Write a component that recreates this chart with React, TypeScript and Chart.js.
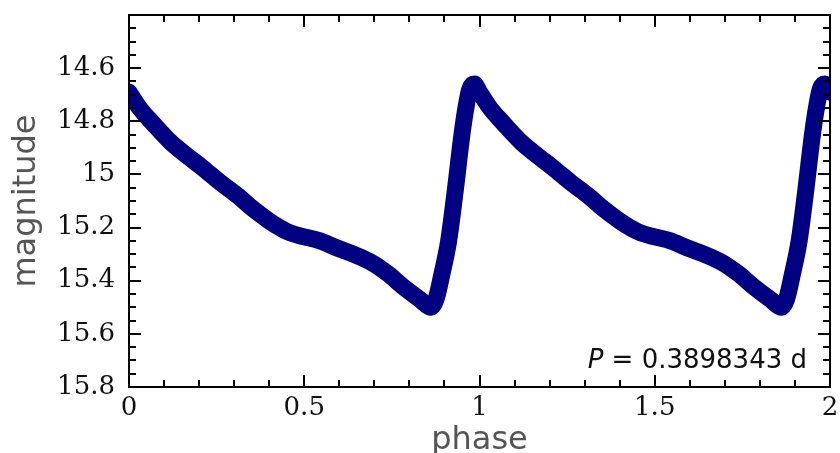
import React, { useEffect, useRef } from 'react';
import { Chart, registerables } from 'chart.js';

Chart.register(...registerables);

// One folded cycle of the light curve (phase, magnitude)
const cyclePhase = [
  0.0, 0.03, 0.07, 0.12, 0.166, 0.21, 0.26, 0.31, 0.354, 0.4, 0.43, 0.46, 0.5,
  0.545, 0.59, 0.64, 0.69, 0.74, 0.78, 0.83, 0.862, 0.876, 0.892, 0.912, 0.93,
  0.953, 0.972, 0.985,
];
const cycleMag = [
  14.69, 14.75, 14.81, 14.88, 14.93, 14.975, 15.03, 15.08, 15.13, 15.175,
  15.2, 15.22, 15.235, 15.25, 15.275, 15.3, 15.33, 15.375, 15.42, 15.47, 15.5,
  15.47, 15.38, 15.25, 15.07, 14.82, 14.68, 14.66,
];
const cycles = [0, 1];
const xTickValues = [0, 0.5, 1, 1.5, 2];
const yTickValues = [14.6, 14.8, 15, 15.2, 15.4, 15.6, 15.8];
const xAxisTitle = 'phase';
const yAxisTitle = 'magnitude';
const periodSymbol = 'P';
const periodText = ' = 0.3898343 d';

const LINE_COLOR = '#000080';

function buildPoints() {
  const pts: { x: number; y: number }[] = [];
  cycles.forEach((k) => {
    cyclePhase.forEach((p, i) => pts.push({ x: p + k, y: cycleMag[i] }));
  });
  pts.push({ x: cyclePhase[0] + cycles.length, y: cycleMag[0] });
  return pts;
}

const framePlugin = {
  id: 'frameTicks',
  afterDraw(chart: any) {
    const { ctx, chartArea, scales } = chart;
    const { left, right, top, bottom } = chartArea;
    const x = scales.x;
    const y = scales.y;
    ctx.save();
    ctx.strokeStyle = '#000';
    ctx.lineWidth = 2;
    ctx.beginPath();
    for (let i = 0; i <= 20; i++) {
      const v = i / 10;
      const px = Math.round(x.getPixelForValue(v));
      const len = i % 5 === 0 ? 12 : 7;
      ctx.moveTo(px, bottom);
      ctx.lineTo(px, bottom - len);
      ctx.moveTo(px, top);
      ctx.lineTo(px, top + len);
    }
    for (let i = 0; i <= 28; i++) {
      const v = 14.4 + i * 0.05;
      const py = Math.round(y.getPixelForValue(v));
      const len = i % 4 === 0 ? 12 : 7;
      ctx.moveTo(left, py);
      ctx.lineTo(left + len, py);
      ctx.moveTo(right, py);
      ctx.lineTo(right - len, py);
    }
    ctx.stroke();
    ctx.strokeRect(left, top, right - left, bottom - top);

    ctx.fillStyle = '#111';
    ctx.textBaseline = 'middle';
    ctx.textAlign = 'left';
    const fontN = '26px "DejaVu Sans"';
    const fontI = 'italic 26px "DejaVu Sans"';
    ctx.font = fontN;
    const wRest = ctx.measureText(periodText).width;
    ctx.font = fontI;
    const wP = ctx.measureText(periodSymbol).width;
    const xEnd = right - 23;
    const yMid = bottom - 26;
    ctx.fillText(periodSymbol, xEnd - wRest - wP, yMid);
    ctx.font = fontN;
    ctx.fillText(periodText, xEnd - wRest, yMid);
    ctx.restore();
  },
};

export default function App() {
  const ref = useRef<HTMLCanvasElement>(null);

  useEffect(() => {
    if (!ref.current) return;
    const chart = new Chart(ref.current, {
      type: 'line',
      data: {
        datasets: [
          {
            data: buildPoints(),
            borderColor: LINE_COLOR,
            backgroundColor: LINE_COLOR,
            borderWidth: 17,
            borderCapStyle: 'round',
            borderJoinStyle: 'round',
            pointRadius: 0,
            cubicInterpolationMode: 'monotone',
            fill: false,
          },
        ],
      },
      options: {
        animation: false,
        responsive: false,
        devicePixelRatio: 1,
        layout: { padding: { top: 15, right: 10, left: 0, bottom: 0 } },
        plugins: {
          legend: { display: false },
          tooltip: { enabled: false },
        },
        scales: {
          x: {
            type: 'linear',
            min: 0,
            max: 2,
            afterBuildTicks: (s: any) => {
              s.ticks = xTickValues.map((v) => ({ value: v }));
            },
            afterFit: (s: any) => {
              s.height = 66;
              s.paddingLeft = 0;
              s.paddingRight = 0;
            },
            grid: { display: false, drawTicks: false },
            border: { display: false },
            ticks: {
              padding: 6,
              color: '#111',
              font: { family: '"DejaVu Serif"', size: 26 },
              maxRotation: 0,
              callback: (v: any) => String(Number(Number(v).toFixed(1))),
            },
            title: {
              display: true,
              text: xAxisTitle,
              color: '#555',
              font: { family: '"DejaVu Sans"', size: 32, lineHeight: 1 },
              padding: { top: 0, bottom: -4 },
            },
          },
          y: {
            type: 'linear',
            reverse: true,
            min: 14.4,
            max: 15.8,
            afterBuildTicks: (s: any) => {
              s.ticks = yTickValues.map((v) => ({ value: v }));
            },
            afterFit: (s: any) => {
              s.width = 129;
              s.paddingTop = 0;
              s.paddingBottom = 0;
            },
            grid: { display: false, drawTicks: false },
            border: { display: false },
            ticks: {
              padding: 14,
              color: '#111',
              font: { family: '"DejaVu Serif"', size: 26 },
              callback: (v: any) => String(Number(Number(v).toFixed(1))),
            },
            title: {
              display: true,
              text: yAxisTitle,
              color: '#555',
              font: { family: '"DejaVu Sans"', size: 32, lineHeight: 1 },
              padding: { top: 11, bottom: 0 },
            },
          },
        },
      },
      plugins: [framePlugin],
    });
    return () => chart.destroy();
  }, []);

  return (
    <div style={{ position: 'fixed', left: 0, top: 0, width: 840, height: 453, background: '#fff' }}>
      <canvas ref={ref} width={840} height={453} style={{ display: 'block' }} />
    </div>
  );
}
